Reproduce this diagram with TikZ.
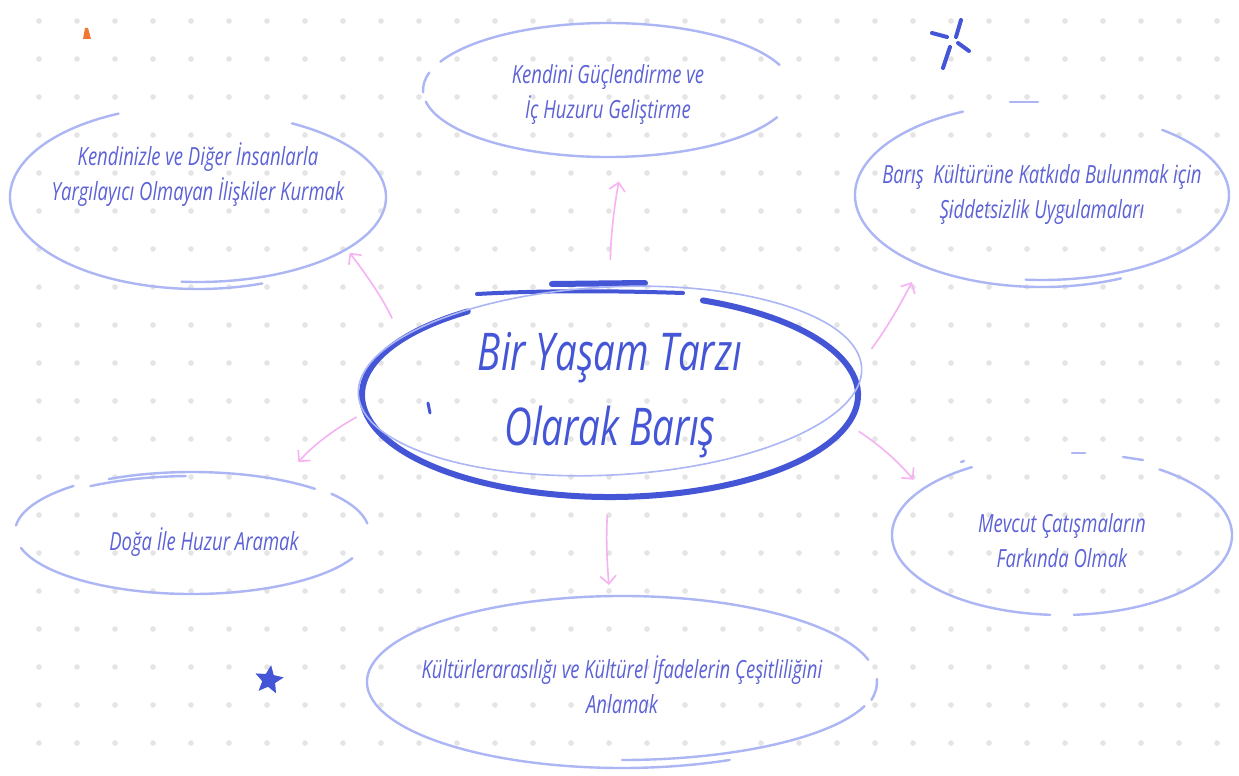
\documentclass[tikz,border=0pt]{standalone}
\usepackage{fontspec}
\setmainfont{Open Sans}[FakeStretch=0.74]
\usetikzlibrary{arrows.meta,positioning,calc,shapes.geometric}

\definecolor{inkblue}{RGB}{92,98,214}
\definecolor{coreblue}{RGB}{68,86,214}
\definecolor{paleblue}{RGB}{172,182,244}
\definecolor{pinkline}{RGB}{246,178,242}
\definecolor{dotgray}{RGB}{228,228,228}
\definecolor{markorange}{RGB}{240,120,50}

\tikzset{
  idea/.style={ellipse, inner xsep=-110pt, inner ysep=-25pt, align=center, text=inkblue,
    font=\fontsize{25}{35}\selectfont\itshape},
  outline/.style={paleblue, line width=2.4pt, line cap=round},
  thickline/.style={coreblue, line width=6pt, line cap=round},
  link/.style={pinkline, line width=1.6pt, -{Straight Barb[length=8pt,width=16pt]}},
}

\begin{document}
\begin{tikzpicture}[x=1pt,y=1pt]
        \fill[white] (0,0) rectangle (1239,-776);
        \useasboundingbox (0,0) rectangle (1239,-776);
        \foreach \x in {39,77,...,1217}{
                \foreach \y in {21,59,...,743}{
                        \fill[dotgray] (\x,-\y) circle (2.8);
                }
        }

        \node[idea, minimum width=496, minimum height=204, text=coreblue,
              font=\fontsize{52}{75}\selectfont\itshape] (core) at (610,-395) {Bir Yaşam Tarzı\\Olarak Barış};
        \node[idea, minimum width=370, minimum height=134, text height=60pt, text depth=4pt] (grow) at (608,-90)
              {Kendini Güçlendirme ve\\İç Huzuru Geliştirme};
        \node[idea, minimum width=376, minimum height=184, text height=46pt, text depth=40pt] (self) at (198,-197)
              {Kendinizle ve Diğer İnsanlarla\\Yargılayıcı Olmayan İlişkiler Kurmak};
        \node[idea, minimum width=374, minimum height=184] (nonviol) at (1042,-195)
              {Barış~ Kültürüne Katkıda Bulunmak için\\Şiddetsizlik Uygulamaları};
        \node[idea, minimum width=354, minimum height=124, text height=40pt, text depth=4pt] (nature) at (192,-532)
              {\hspace*{24pt}Doğa İle Huzur Aramak};
        \node[idea, minimum width=340, minimum height=160, text height=68pt, text depth=4pt] (aware) at (1062,-535)
              {Mevcut Çatışmaların\\Farkında Olmak};
        \node[idea, minimum width=510, minimum height=172, text height=66pt, text depth=4pt] (intercult) at (622,-682)
              {Kültürlerarasılığı ve Kültürel İfadelerin Çeşitliliğini\\Anlamak};

        % sketchy outlines
        \draw[thickline] ([shift={(68:248 and 102)}]core.center) arc[start angle=68, end angle=-235, x radius=248, y radius=102];
        \draw[thickline, line width=4] (477,-294) .. controls (550,-290) and (620,-291) .. (683,-293);
        \draw[thickline] (552,-284) -- (645,-283);
        \draw[thickline, line width=3] (428,-403) -- (430,-413);
        \draw[paleblue, line width=1.6, rotate around={3:(610,-381)}] (610,-381) ellipse [x radius=252, y radius=94];

        \foreach \a/\b in {22/155,165/182,190/336}
                \draw[outline] ([shift={(\a:185 and 67)}]grow.center) arc[start angle=\a, end angle=\b, x radius=185, y radius=67];
        \foreach \a/\b/\r in {60/-95/85,115/290/92}
                \draw[outline] ([shift={(\a:188 and \r)}]self.center) arc[start angle=\a, end angle=\b, x radius=188, y radius=\r];
        \foreach \a/\b/\r in {50/-95/85,115/295/92}
                \draw[outline] ([shift={(\a:187 and \r)}]nonviol.center) arc[start angle=\a, end angle=\b, x radius=187, y radius=\r];
        \draw[outline] (1010,-102) -- (1038,-102);
        \foreach \a/\b/\r in {132/174/62,118/46/60,38/8/62,195/335/62,125/92/56}
                \draw[outline] ([shift={(\a:177 and \r)}]nature.center) arc[start angle=\a, end angle=\b, x radius=177, y radius=\r];
        \foreach \a/\b in {122/266,274/415}
                \draw[outline] ([shift={(\a:170 and 80)}]aware.center) arc[start angle=\a, end angle=\b, x radius=170, y radius=80];
        \draw[outline] (1072,-453) -- (1085,-453);
        \draw[outline] (1123,-457) -- (1143,-460);
        \draw[outline] (961,-462) -- (964,-461);
        \foreach \a/\b/\r in {15/295/86,-18/-90/78,2/-12/86}
                \draw[outline] ([shift={(\a:255 and \r)}]intercult.center) arc[start angle=\a, end angle=\b, x radius=255, y radius=\r];

        % links
        \draw[link, shorten <=33pt, shorten >=25pt] (core.90) to[bend left=5] (grow.-77);
        \draw[link, shorten <=23pt, shorten >=1pt] (core.165) to[bend right=6] (self.-20);
        \draw[link, shorten <=31pt, shorten >=19pt] (core.5) to[bend right=5] (nonviol.210);
        \draw[link, shorten <=10pt, shorten >=22pt] (core.184) to[bend right=10] (nature.30);
        \draw[link, shorten <=13pt, shorten >=13pt] (core.-7) to[bend left=8] (aware.162);
        \draw[link, shorten <=18pt, shorten >=11pt] (core.-91) to[bend right=4] (intercult.98);

        % doodles
        \fill[markorange] (85,-28) -- (88,-28) -- (91,-39) -- (83,-39) -- cycle;
        \draw[thickline, line width=4] (956,-37) -- (961,-20);
        \draw[thickline, line width=4] (950,-47) -- (943,-68);
        \draw[thickline, line width=4] (947,-37) -- (932,-33);
        \draw[thickline, line width=4] (958,-43) -- (969,-51);
        \node[star, star points=5, star point ratio=2.2, fill=coreblue, minimum size=30pt, inner sep=0pt, rotate=-8] (starmark) at (269,-680) {};
\end{tikzpicture}
\end{document}
